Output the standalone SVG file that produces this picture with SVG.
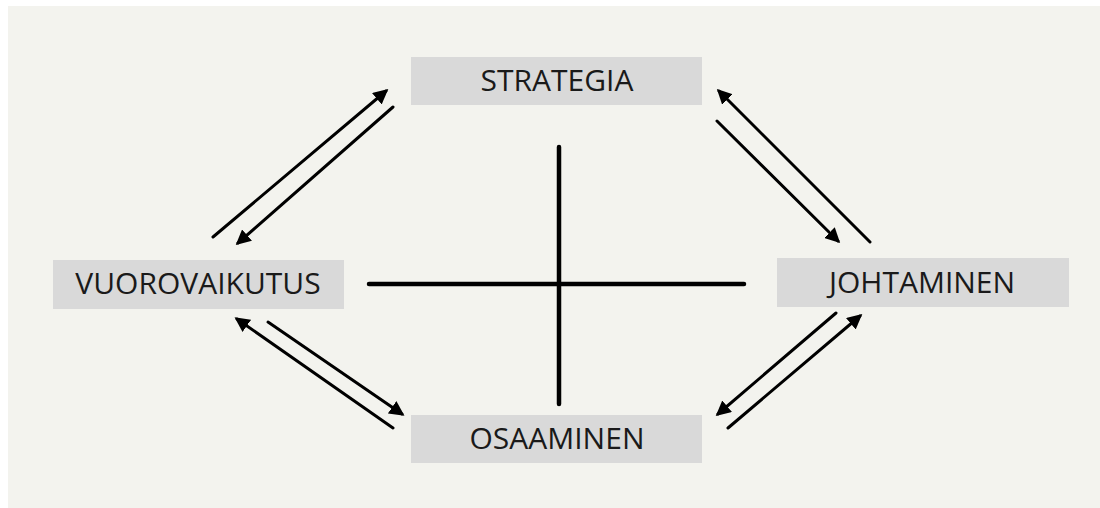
<svg xmlns="http://www.w3.org/2000/svg" width="1100" height="508" viewBox="0 0 1100 508">
<style>
.box{fill:#d9d9d9}
.lbl{font-family:"Open Sans",sans-serif;font-size:30px;fill:#1a1a1a;text-anchor:middle}
.arr{stroke:#000;stroke-width:3;fill:none;stroke-linecap:round}
.cross{stroke:#000;stroke-width:4.5;stroke-linecap:round}
</style>
<defs>
<marker id="ah" markerWidth="15" markerHeight="15" refX="12" refY="7.5" orient="auto" markerUnits="userSpaceOnUse">
<path d="M0,0 L15,7.5 L0,15 Z" fill="#000"/>
</marker>
</defs>
<rect x="0" y="0" width="1100" height="508" fill="#ffffff"/>
<rect x="8" y="6" width="1092" height="502" fill="#f3f3ee"/>
<g id="strategia"><rect class="box" x="411" y="57" width="291" height="48"/><text class="lbl" x="557" y="91">STRATEGIA</text></g>
<g id="vuorovaikutus"><rect class="box" x="53" y="260" width="291" height="49"/><text class="lbl" x="198" y="294">VUOROVAIKUTUS</text></g>
<g id="johtaminen"><rect class="box" x="777" y="258" width="292" height="49"/><text class="lbl" x="922" y="293">JOHTAMINEN</text></g>
<g id="osaaminen"><rect class="box" x="411" y="415" width="291" height="48"/><text class="lbl" x="557" y="449">OSAAMINEN</text></g>
<g id="connectors">
<line class="arr" x1="213" y1="237" x2="386" y2="91" marker-end="url(#ah)"/>
<line class="arr" x1="393" y1="107" x2="238" y2="243" marker-end="url(#ah)"/>
<line class="arr" x1="870" y1="242" x2="719" y2="91" marker-end="url(#ah)"/>
<line class="arr" x1="717" y1="121" x2="838" y2="241" marker-end="url(#ah)"/>
<line class="arr" x1="393" y1="428" x2="237" y2="319" marker-end="url(#ah)"/>
<line class="arr" x1="268" y1="322" x2="402" y2="414" marker-end="url(#ah)"/>
<line class="arr" x1="836" y1="313" x2="718" y2="414" marker-end="url(#ah)"/>
<line class="arr" x1="728" y1="428" x2="860" y2="316" marker-end="url(#ah)"/>
<line class="cross" x1="559" y1="147" x2="559" y2="404"/>
<line class="cross" x1="369" y1="284" x2="744" y2="284"/>
</g>
</svg>
